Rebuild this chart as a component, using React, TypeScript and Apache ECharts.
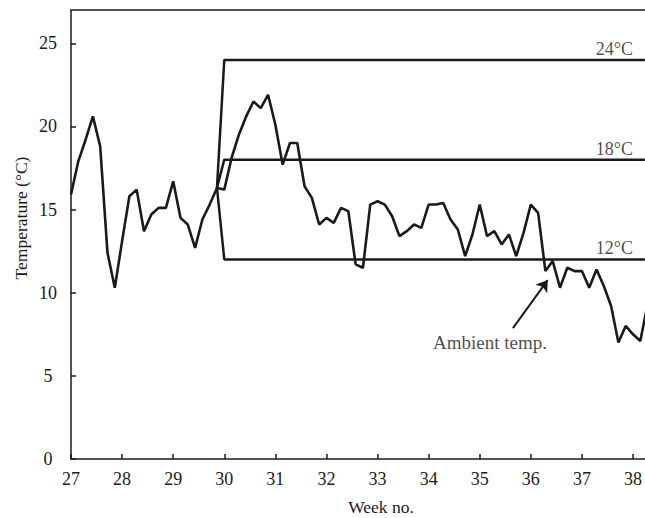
import React, { useEffect, useRef } from "react";
import * as echarts from "echarts";

const startWeek = 27;
const daysPerWeek = 7;
const ambientTemp = [
  15.9, 17.9, 19.2, 20.6, 18.8, 12.4, 10.3, 13.1, 15.8, 16.2,
  13.7, 14.7, 15.1, 15.1, 16.7, 14.5, 14.1, 12.7, 14.4, 15.3,
  16.3, 16.2, 18.1, 19.5, 20.6, 21.5, 21.1, 21.9, 20.1, 17.7,
  19.0, 19.0, 16.4, 15.7, 14.1, 14.5, 14.2, 15.1, 14.9, 11.7,
  11.5, 15.3, 15.5, 15.3, 14.6, 13.4, 13.7, 14.1, 13.9, 15.3,
  15.3, 15.4, 14.4, 13.8, 12.2, 13.5, 15.3, 13.4, 13.7, 12.9,
  13.5, 12.2, 13.6, 15.3, 14.8, 11.3, 11.9, 10.3, 11.5, 11.3,
  11.3, 10.3, 11.4, 10.4, 9.2, 7.0, 8.0, 7.5, 7.1, 9.3,
];
const setpoints = [24, 18, 12];
const setpointLabels = ["24°C", "18°C", "12°C"];
const rampStartWeek = 27 + 20 / 7;
const rampStartTemp = 16.3;
const switchWeek = 30;
const xMin = 27;
const xMax = 38.233;
const yMin = 0;
const yMax = 27;
const xTickLabels = ["27", "28", "29", "30", "31", "32", "33", "34", "35", "36", "37", "38"];
const yTickLabels = ["0", "5", "10", "15", "20", "25"];
const labelWeek = 38;
const annotationText = "Ambient temp.";
const annotationPos = [35.2, 7.03];
const arrowFrom = [35.65, 7.87];
const arrowTo = [36.33, 10.76];

const FONT = "'Liberation Serif', 'Times New Roman', serif";
const INK = "#1a1a1a";

export default function App() {
  const ref = useRef<HTMLDivElement>(null);
  useEffect(() => {
    if (!ref.current) return;
    const chart = echarts.init(ref.current, null, { renderer: "svg" });
    const ambientData = ambientTemp.map((v, i) => [startWeek + i / daysPerWeek, v]);
    const setpointSeries = setpoints.map((sp) => ({
      type: "line",
      data: [
        [rampStartWeek, rampStartTemp],
        [switchWeek, sp],
        [xMax, sp],
      ],
      symbol: "none",
      lineStyle: { color: INK, width: 2.5 },
      silent: true,
    }));
    chart.setOption({
      animation: false,
      backgroundColor: "#fff",
      grid: { left: 71, right: 0, top: 10, bottom: 59 },
      xAxis: [
        {
          type: "value",
          min: xMin,
          max: xMax,
          interval: 1,
          axisLine: { show: true, lineStyle: { color: INK, width: 1.5 } },
          axisTick: { show: true, inside: true, length: 5, lineStyle: { color: INK, width: 1.5 } },
          splitLine: { show: false },
          axisLabel: {
            show: true,
            margin: 11,
            fontFamily: FONT,
            fontSize: 18,
            color: INK,
            showMaxLabel: false,
            formatter: (v: number) => {
              const idx = Math.round(v) - xMin;
              return Math.abs(v - Math.round(v)) < 1e-6 && xTickLabels[idx] ? xTickLabels[idx] : "";
            },
          },
        },
        {
          type: "value",
          position: "top",
          min: xMin,
          max: xMax,
          axisLine: { show: true, onZero: false, lineStyle: { color: INK, width: 1.5 } },
          axisTick: { show: false },
          axisLabel: { show: false },
          splitLine: { show: false },
        },
      ],
      yAxis: {
        type: "value",
        min: yMin,
        max: yMax,
        interval: 5,
        axisLine: { show: true, lineStyle: { color: INK, width: 1.5 } },
        axisTick: { show: true, inside: true, length: 5, lineStyle: { color: INK, width: 1.5 } },
        splitLine: { show: false },
        axisLabel: {
          margin: 23,
          align: "center",
          fontFamily: FONT,
          fontSize: 18,
          color: INK,
          showMaxLabel: false,
          formatter: (v: number) => {
            const idx = Math.round(v / 5);
            return Math.abs(v - idx * 5) < 1e-6 && yTickLabels[idx] ? yTickLabels[idx] : "";
          },
        },
      },
      series: [
        ...setpointSeries,
        {
          type: "line",
          data: ambientData,
          symbol: "none",
          lineStyle: { color: INK, width: 2.6 },
          silent: true,
        },
        {
          type: "scatter",
          symbolSize: 0,
          silent: true,
          data: setpoints.map((sp, i) => ({
            value: [labelWeek, sp],
            label: {
              show: true,
              formatter: setpointLabels[i],
              position: [0, 0],
              align: "right",
              verticalAlign: "middle",
              offset: [0, -11],
              fontFamily: FONT,
              fontSize: 18,
              color: INK,
            },
          })),
        },
        {
          type: "scatter",
          symbolSize: 0,
          silent: true,
          data: [
            {
              value: annotationPos,
              label: {
                show: true,
                formatter: annotationText,
                position: [0, 0],
                align: "center",
                verticalAlign: "middle",
                fontFamily: FONT,
                fontSize: 19,
                color: INK,
              },
            },
          ],
          markLine: {
            silent: true,
            symbol: ["none", "arrow"],
            symbolSize: 11,
            label: { show: false },
            lineStyle: { color: INK, width: 2, type: "solid" },
            data: [[{ coord: arrowFrom }, { coord: arrowTo }]],
          },
        },
      ],
      graphic: [
        {
          type: "text",
          x: 21,
          y: 218,
          rotation: Math.PI / 2,
          style: {
            text: "Temperature (°C)",
            font: `17.5px ${FONT}`,
            fill: INK,
            align: "center",
            verticalAlign: "middle",
          },
        },
        {
          type: "text",
          x: 381,
          y: 507,
          style: {
            text: "Week no.",
            font: `17.5px ${FONT}`,
            fill: INK,
            align: "center",
            verticalAlign: "middle",
          },
        },
      ],
    });
    return () => chart.dispose();
  }, []);
  return (
    <div
      ref={ref}
      style={{ position: "fixed", left: 0, top: 0, width: 645, height: 518, background: "#fff" }}
    />
  );
}
